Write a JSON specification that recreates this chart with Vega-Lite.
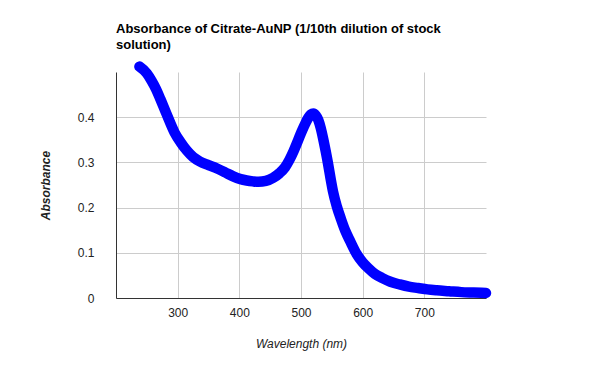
{
  "$schema": "https://vega.github.io/schema/vega-lite/v6.json",
  "width": 370,
  "height": 226,
  "autosize": {"type": "none"},
  "padding": {"left": 116, "top": 72, "right": 114, "bottom": 73},
  "background": "white",
  "title": {
    "text": ["Absorbance of Citrate-AuNP (1/10th dilution of stock", "solution)"],
    "anchor": "start",
    "frame": "group",
    "font": "Liberation Sans",
    "fontSize": 13,
    "fontWeight": "bold",
    "color": "#000000",
    "lineHeight": 16,
    "offset": 9
  },
  "config": {
    "view": {"stroke": null},
    "axis": {
      "labelFont": "Liberation Sans",
      "titleFont": "Liberation Sans",
      "labelFontSize": 12,
      "labelColor": "#222222",
      "titleColor": "#222222",
      "titleFontSize": 12,
      "gridColor": "#cccccc",
      "gridWidth": 1,
      "ticks": false,
      "domainColor": "#333333",
      "domainWidth": 1
    }
  },
  "data": {
    "values": [
      {"wavelength": 238, "absorbance": 0.512},
      {"wavelength": 250, "absorbance": 0.497},
      {"wavelength": 258, "absorbance": 0.48},
      {"wavelength": 265, "absorbance": 0.462},
      {"wavelength": 272, "absorbance": 0.44},
      {"wavelength": 282, "absorbance": 0.407},
      {"wavelength": 295, "absorbance": 0.366},
      {"wavelength": 305, "absorbance": 0.344},
      {"wavelength": 315, "absorbance": 0.326},
      {"wavelength": 325, "absorbance": 0.312},
      {"wavelength": 336, "absorbance": 0.302},
      {"wavelength": 350, "absorbance": 0.294},
      {"wavelength": 363, "absorbance": 0.287},
      {"wavelength": 377, "absorbance": 0.278},
      {"wavelength": 390, "absorbance": 0.269},
      {"wavelength": 402, "absorbance": 0.263},
      {"wavelength": 412, "absorbance": 0.26},
      {"wavelength": 422, "absorbance": 0.258},
      {"wavelength": 431, "absorbance": 0.257},
      {"wavelength": 443, "absorbance": 0.259},
      {"wavelength": 455, "absorbance": 0.266},
      {"wavelength": 465, "absorbance": 0.276},
      {"wavelength": 474, "absorbance": 0.289},
      {"wavelength": 481, "absorbance": 0.305},
      {"wavelength": 488, "absorbance": 0.325},
      {"wavelength": 495, "absorbance": 0.348},
      {"wavelength": 501, "absorbance": 0.368},
      {"wavelength": 507, "absorbance": 0.386},
      {"wavelength": 512, "absorbance": 0.399},
      {"wavelength": 516, "absorbance": 0.406},
      {"wavelength": 520, "absorbance": 0.408},
      {"wavelength": 524, "absorbance": 0.404},
      {"wavelength": 528, "absorbance": 0.394},
      {"wavelength": 532, "absorbance": 0.376},
      {"wavelength": 536, "absorbance": 0.352},
      {"wavelength": 540, "absorbance": 0.325},
      {"wavelength": 544, "absorbance": 0.296},
      {"wavelength": 548, "absorbance": 0.264},
      {"wavelength": 552, "absorbance": 0.235},
      {"wavelength": 558, "absorbance": 0.203},
      {"wavelength": 565, "absorbance": 0.174},
      {"wavelength": 572, "absorbance": 0.148},
      {"wavelength": 580, "absorbance": 0.125},
      {"wavelength": 590, "absorbance": 0.098},
      {"wavelength": 600, "absorbance": 0.079},
      {"wavelength": 610, "absorbance": 0.065},
      {"wavelength": 620, "absorbance": 0.053},
      {"wavelength": 632, "absorbance": 0.044},
      {"wavelength": 645, "absorbance": 0.036},
      {"wavelength": 660, "absorbance": 0.03},
      {"wavelength": 675, "absorbance": 0.025},
      {"wavelength": 690, "absorbance": 0.022},
      {"wavelength": 705, "absorbance": 0.019},
      {"wavelength": 720, "absorbance": 0.017},
      {"wavelength": 740, "absorbance": 0.015},
      {"wavelength": 760, "absorbance": 0.013},
      {"wavelength": 780, "absorbance": 0.012},
      {"wavelength": 800, "absorbance": 0.011}
    ]
  },
  "mark": {
    "type": "line",
    "color": "#0000ff",
    "strokeWidth": 10.5,
    "strokeCap": "round",
    "strokeJoin": "round",
    "interpolate": "monotone",
    "clip": false
  },
  "encoding": {
    "x": {
      "field": "wavelength",
      "type": "quantitative",
      "scale": {"domain": [200, 800], "nice": false, "zero": false},
      "axis": {
        "title": "Wavelength (nm)",
        "values": [300, 400, 500, 600, 700],
        "format": "d",
        "labelPadding": 9,
        "titleFontStyle": "italic",
        "titleFontWeight": "normal",
        "titleX": 185,
        "titleY": 45,
        "titleBaseline": "middle",
        "titleAlign": "center"
      }
    },
    "y": {
      "field": "absorbance",
      "type": "quantitative",
      "scale": {"domain": [0, 0.5], "nice": false},
      "axis": {
        "title": "Absorbance",
        "values": [0, 0.1, 0.2, 0.3, 0.4],
        "labelExpr": "datum.value === 0 ? '0' : format(datum.value, '.1f')",
        "labelPadding": 22,
        "titleFontStyle": "italic",
        "titleFontWeight": "bold",
        "titleAngle": -90,
        "titleX": -71,
        "titleY": 113,
        "titleBaseline": "middle",
        "titleAlign": "center"
      }
    }
  }
}
